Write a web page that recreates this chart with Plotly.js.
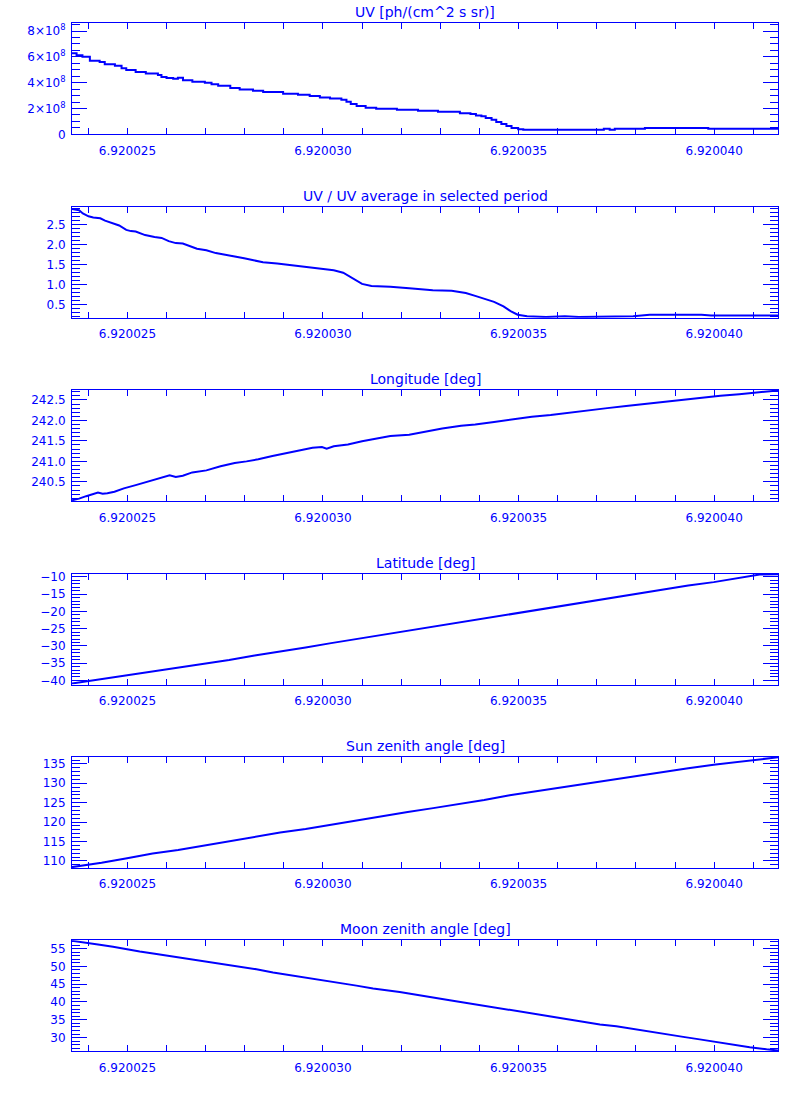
<!DOCTYPE html>
<html><head><meta charset="utf-8">
<script src="https://cdn.plot.ly/plotly-3.0.1.min.js"></script>
<style>body{margin:0;background:#fff}#chart{width:800px;height:1100px}</style>
</head><body><div id="chart"></div>
<script>
// ---- data ----
const uvTime = [6.920023583,6.92002370,6.92002385,6.92002404,6.92002429,6.92002442,6.92002468,6.92002485,6.92002497,6.92002521,
 6.92002547,6.92002578,6.92002587,6.92002600,6.92002617,6.92002629,6.92002642,6.92002666,6.92002698,6.92002715,
 6.92002732,6.92002763,6.92002787,6.92002821,6.92002847,6.92002898,6.92002936,6.92002966,6.92002992,6.92003018,
 6.92003047,6.92003060,6.92003071,6.92003086,6.92003109,6.92003136,6.92003189,6.92003243,6.92003294,6.92003350,
 6.92003377,6.92003391,6.92003405,6.92003416,6.92003431,6.92003443,6.92003456,6.92003469,6.92003482,6.92003499,
 6.92003512,6.92003718,6.92003733,6.92003746,6.92003823,6.92003985,6.920041633];
const uvValues = [6.27e8,6.12e8,6.00e8,5.70e8,5.60e8,5.42e8,5.31e8,5.11e8,4.98e8,4.82e8,
 4.72e8,4.59e8,4.43e8,4.36e8,4.30e8,4.38e8,4.18e8,4.07e8,3.99e8,3.87e8,
 3.76e8,3.58e8,3.48e8,3.37e8,3.27e8,3.14e8,3.06e8,2.96e8,2.86e8,2.78e8,
 2.67e8,2.52e8,2.34e8,2.19e8,2.05e8,1.98e8,1.90e8,1.82e8,1.74e8,1.64e8,
 1.57e8,1.46e8,1.39e8,1.26e8,1.12e8,0.95e8,0.79e8,0.64e8,0.48e8,0.40e8,
 0.35e8,0.43e8,0.35e8,0.43e8,0.48e8,0.43e8,0.43e8];

const ratioTime = [6.920023583,6.920023764,6.920023860,6.920024005,6.920024126,6.920024306,6.920024427,6.920024608,6.920024789,6.920024970,
 6.920025090,6.920025211,6.920025452,6.920025693,6.920025874,6.920026055,6.920026236,6.920026416,6.920026597,6.920026778,
 6.920027019,6.920027260,6.920027501,6.920027743,6.920027984,6.920028225,6.920028466,6.920028828,6.920029190,6.920029551,
 6.920029913,6.920030275,6.920030516,6.920030660,6.920030817,6.920030998,6.920031239,6.920031721,6.920032204,6.920032807,
 6.920033289,6.920033651,6.920033892,6.920034133,6.920034374,6.920034615,6.920034796,6.920034977,6.920035218,6.920035700,
 6.920036183,6.920036544,6.920037268,6.920037931,6.920038353,6.920039679,6.920039920,6.920041633];
const ratioValues = [2.89,2.86,2.78,2.71,2.68,2.66,2.60,2.53,2.48,2.37,
 2.34,2.33,2.24,2.19,2.17,2.09,2.04,2.03,1.97,1.90,
 1.86,1.79,1.75,1.71,1.66,1.61,1.56,1.53,1.49,1.45,
 1.41,1.36,1.30,1.22,1.12,1.02,0.97,0.95,0.91,0.86,
 0.85,0.79,0.72,0.64,0.57,0.46,0.34,0.25,0.21,0.19,
 0.21,0.19,0.20,0.21,0.25,0.25,0.23,0.23];

const lonTime = [6.920023583,6.920023764,6.920023945,6.920024126,6.920024247,6.920024367,6.920024487,6.920024668,6.920024909,6.920025211,
 6.920025512,6.920025814,6.920026079,6.920026236,6.920026416,6.920026658,6.920027019,6.920027381,6.920027743,6.920028044,
 6.920028346,6.920028707,6.920029069,6.920029431,6.920029732,6.920029973,6.920030094,6.920030275,6.920030637,6.920030998,
 6.920031360,6.920031722,6.920032204,6.920032686,6.920033048,6.920033530,6.920033892,6.920034374,6.920034857,6.920035339,
 6.920035821,6.920036303,6.920036786,6.920037268,6.920037750,6.920038232,6.920038715,6.920039197,6.920039679,6.920040161,
 6.920040643,6.920041126,6.920041633];
const lonValues = [240.05,240.09,240.15,240.20,240.24,240.21,240.22,240.26,240.34,240.42,
 240.50,240.58,240.66,240.62,240.65,240.73,240.78,240.88,240.96,241.00,
 241.05,241.13,241.20,241.26,241.33,241.35,241.31,241.37,241.41,241.49,
 241.56,241.62,241.65,241.74,241.80,241.87,241.90,241.96,242.03,242.09,
 242.13,242.19,242.25,242.30,242.35,242.40,242.45,242.50,242.56,242.60,
 242.64,242.68,242.73];

const latTime = [6.920023583,6.920023818,6.920024339,6.920024992,6.920025644,6.920026296,6.920026948,6.920027600,6.920028252,6.920028904,
 6.920029556,6.920030208,6.920030860,6.920031513,6.920032165,6.920032817,6.920033469,6.920034121,6.920034773,6.920035425,
 6.920036077,6.920036729,6.920037381,6.920038034,6.920038686,6.920039338,6.920039990,6.920040642,6.920041164,6.920041633];
const latValues = [-40.9,-40.5,-39.7,-38.7,-37.6,-36.4,-35.2,-34.1,-32.8,-31.7,
 -30.5,-29.2,-28.0,-26.7,-25.5,-24.3,-23.1,-22.0,-20.7,-19.5,
 -18.4,-17.1,-15.9,-14.8,-13.6,-12.5,-11.5,-10.3,-9.3,-9.2];

const sunTime = [6.920023583,6.920024013,6.920024339,6.920024992,6.920025644,6.920026296,6.920026948,6.920027600,6.920028252,6.920028904,
 6.920029556,6.920030208,6.920030860,6.920031513,6.920032165,6.920032817,6.920033469,6.920034121,6.920034773,6.920035425,
 6.920036077,6.920036729,6.920037381,6.920038034,6.920038686,6.920039338,6.920039990,6.920040642,6.920041294,6.920041633];
const sunValues = [108.4,109.0,109.5,110.7,111.9,112.8,113.9,115.0,116.1,117.3,
 118.2,119.3,120.4,121.6,122.6,123.6,124.6,125.7,126.9,127.9,
 129.0,129.9,131.0,131.9,132.9,133.9,134.8,135.6,136.3,136.7];

const moonTime = [6.920023576,6.920023952,6.920024292,6.920024632,6.920025000,6.920025315,6.920025742,6.920026166,6.920026593,6.920027020,
 6.920027444,6.920027871,6.920028298,6.920028723,6.920029150,6.920029577,6.920030001,6.920030428,6.920030855,6.920031280,
 6.920031707,6.920031962,6.920033240,6.920034520,6.920035800,6.920037080,6.920037500,6.920037930,6.920038350,6.920038780,
 6.920039210,6.920039630,6.920040060,6.920040480,6.920040910,6.920041340,6.920041633];
const moonValues = [57.2,56.7,56.1,55.5,54.7,54.2,53.5,52.8,52.1,51.4,
 50.7,49.9,49.2,48.3,47.6,46.9,46.0,45.3,44.6,43.8,
 43.2,42.8,40.5,38.3,36.0,33.7,33.2,32.4,31.8,31.0,
 30.2,29.5,28.7,27.9,27.3,26.7,26.4];

const panelTitles = ['UV [ph/(cm^2 s sr)]','UV / UV average in selected period','Longitude [deg]',
                     'Latitude [deg]','Sun zenith angle [deg]','Moon zenith angle [deg]'];

// ---- styling / layout ----
const BLUE = '#0000ff';
const FONT = 'DejaVu Sans';
const W = 800, H = 1100, L = 72, R = 778, PH = 111;
const tops = [23.3, 206.7, 390.1, 573.5, 756.9, 940.3];

const series = [
  {x: uvTime,    y: uvValues,    shape: 'hv',     range: [0, 8.6e8],        dtick: 2e8, minor: 5e7, fmt: '',    exp: 'power'},
  {x: ratioTime, y: ratioValues, shape: 'linear', range: [0.175, 2.95],     dtick: 0.5, minor: 0.1, fmt: '.1f', exp: 'none'},
  {x: lonTime,   y: lonValues,   shape: 'linear', range: [240.03, 242.74],  dtick: 0.5, minor: 0.1, fmt: '.1f', exp: 'none'},
  {x: latTime,   y: latValues,   shape: 'linear', range: [-41.2, -9.0],     dtick: 5,   minor: 1,   fmt: 'd',   exp: 'none'},
  {x: sunTime,   y: sunValues,   shape: 'linear', range: [108.2, 136.8],    dtick: 5,   minor: 1,   fmt: 'd',   exp: 'none'},
  {x: moonTime,  y: moonValues,  shape: 'linear', range: [26.15, 57.33],    dtick: 5,   minor: 1,   fmt: 'd',   exp: 'none'}
];

const xRange = [uvTime[0], uvTime[uvTime.length - 1]];
const data = [];
const layout = {
  width: W, height: H, margin: {l: 0, r: 0, t: 0, b: 0},
  paper_bgcolor: '#ffffff', plot_bgcolor: '#ffffff',
  showlegend: false, font: {family: FONT, color: BLUE, size: 12},
  annotations: []
};

series.forEach((s, i) => {
  const n = i === 0 ? '' : String(i + 1);
  data.push({
    type: 'scatter', mode: 'lines', x: s.x, y: s.y,
    xaxis: 'x' + n, yaxis: 'y' + n,
    line: {color: BLUE, width: 2, shape: s.shape},
    hoverinfo: 'skip'
  });
  const top = tops[i];
  layout['xaxis' + n] = {
    domain: [L / W, R / W], anchor: 'y' + n, range: xRange,
    tick0: 6.92, dtick: 5e-6, tickformat: '.6f',
    ticks: 'inside', ticklen: 6, tickwidth: 1, tickcolor: BLUE,
    showline: true, linecolor: BLUE, linewidth: 1, mirror: 'allticks',
    showgrid: false, zeroline: false, ticklabelstandoff: 5,
    tickfont: {family: FONT, size: 12, color: BLUE},
    minor: {dtick: 1e-6, tick0: 6.92, ticks: 'inside', ticklen: 6, tickwidth: 1, tickcolor: BLUE, showgrid: false}
  };
  const yax = {
    domain: [1 - (top + PH) / H, 1 - top / H], anchor: 'x' + n, range: s.range,
    tick0: 0, dtick: s.dtick, exponentformat: s.exp,
    ticks: 'inside', ticklen: 15, tickwidth: 1, tickcolor: BLUE,
    showline: true, linecolor: BLUE, linewidth: 1, mirror: 'allticks',
    showgrid: false, zeroline: false, ticklabelstandoff: 3,
    tickfont: {family: FONT, size: 12, color: BLUE},
    minor: {dtick: s.minor, tick0: 0, ticks: 'inside', ticklen: 8, tickwidth: 1, tickcolor: BLUE, showgrid: false}
  };
  if (s.fmt) yax.tickformat = s.fmt;
  layout['yaxis' + n] = yax;
  layout.annotations.push({
    text: panelTitles[i], xref: 'paper', yref: 'paper',
    x: (L + R) / 2 / W, y: 1 - (top - 11) / H, xanchor: 'center', yanchor: 'middle',
    showarrow: false, font: {family: FONT, size: 14, color: BLUE}
  });
});

Plotly.newPlot('chart', data, layout, {displayModeBar: false, staticPlot: true});
</script>
</body></html>
